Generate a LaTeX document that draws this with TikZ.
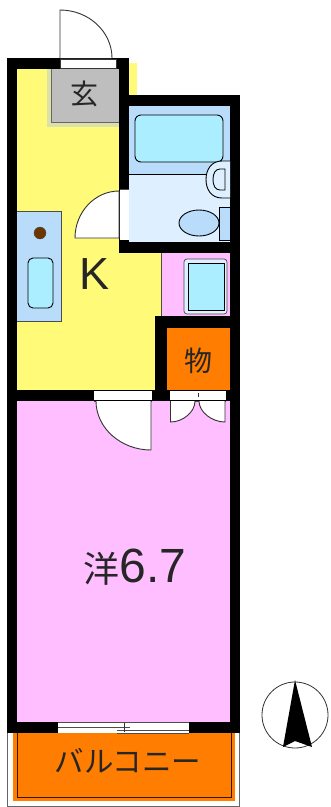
\documentclass[tikz,border=0pt]{standalone}
\usepackage{fontspec}
\setmainfont{Noto Sans CJK JP}
\newfontfamily\latinfont{Liberation Sans}
\definecolor{wallblack}{RGB}{0,0,0}
\definecolor{kitchenyellow}{RGB}{255,250,120}
\definecolor{roompink}{RGB}{255,190,255}
\definecolor{storeorange}{RGB}{255,125,0}
\definecolor{entrygray}{RGB}{190,190,190}
\definecolor{entryedge}{RGB}{220,225,170}
\definecolor{bathblue}{RGB}{185,220,250}
\definecolor{washblue}{RGB}{222,240,255}
\definecolor{tubcyan}{RGB}{170,238,255}
\tikzset{
  wall/.style={fill=wallblack, draw=none},
  fixture/.style={draw=black, line width=0.9pt},
  doorleaf/.style={draw=black!80, fill=white, line width=0.9pt},
  roomlabel/.style={text=black!85, inner sep=0pt}
}
\begin{document}
\begin{tikzpicture}[x=1pt, y=-1pt]
\useasboundingbox (0, 0) rectangle (330, 807);
\fill[white] (0, 0) rectangle (330, 807);

% Floors
\fill[kitchenyellow] (17, 69) rectangle (119, 391);
\fill[kitchenyellow] (119, 253) rectangle (161, 391);
\fill[kitchenyellow] (129, 63) rectangle (137, 95);
\fill[roompink] (17, 401) rectangle (230, 722);
\fill[roompink] (161, 253) rectangle (230, 316);
\draw[black!70, line width=0.7pt] (161, 253) -- (161, 316);
\fill[storeorange] (167, 328) rectangle (230, 390);
\fill[bathblue] (129, 106) rectangle (230, 174);
\fill[washblue] (129, 174) rectangle (230, 242);
\draw[black, line width=0.8pt] (129, 174) -- (208, 174);

% Entrance
\fill[entryedge] (47, 69) rectangle (119, 127);
\fill[entrygray] (51, 69) rectangle (119, 122);
\draw[black!60, line width=0.6pt] (51, 69) -- (51, 122) -- (119, 122);

% Balcony
\draw[black!60, line width=0.8pt] (7.5, 733) -- (7.5, 806) -- (239.5, 806) -- (239.5, 733);
\fill[storeorange] (13, 733) rectangle (235, 801);
\draw[black!80!storeorange, line width=0.9pt] (17, 733) -- (17, 797) -- (231, 797) -- (231, 733);

% Walls
\fill[wall] (7, 58) rectangle (17, 733);
\fill[wall] (7, 58) rectangle (129, 69);
\fill[wall] (119, 58) rectangle (129, 253);
\fill[wall] (119, 95) rectangle (240, 106);
\fill[wall] (230, 95) rectangle (240, 733);
\fill[wall] (119, 242) rectangle (240, 253);
\fill[wall] (155, 316) rectangle (240, 328);
\fill[wall] (155, 316) rectangle (167, 401);
\fill[wall] (7, 390) rectangle (240, 401);
\fill[wall] (7, 722) rectangle (240, 733);

% Openings
\draw[doorleaf] (60, 59) rectangle (116, 68);
\fill[white] (120, 189) rectangle (129, 240);
\draw[black!70, line width=0.6pt] (120, 189) -- (129, 189);
\fill[white] (94, 391) rectangle (152, 400);
\draw[black!70, line width=0.8pt] (94, 401) -- (152, 401);
\fill[white] (170, 391) rectangle (226, 400);
\draw[black!70, line width=0.8pt] (170, 401) -- (226, 401);
\draw[black!80, line width=0.8pt] (198, 393) -- (198, 397);

% Doors
\draw[doorleaf] (60, 58) -- (60, 10) .. controls (89, 10) and (112, 32) .. (112, 58);
\draw[doorleaf] (119, 191) -- (119, 238) -- (75, 238) .. controls (75, 212) and (95, 191) .. (119, 191);
\draw[doorleaf] (151, 401) -- (151, 450) .. controls (121, 450) and (96, 428) .. (96, 401);
\draw[doorleaf] (170.5, 401) -- (170.5, 422) .. controls (183, 422) and (195, 412) .. (195, 401);
\draw[doorleaf] (225, 401) -- (225, 422) .. controls (212, 422) and (199, 412) .. (199, 401);

% Window
\fill[white] (58, 722) rectangle (189, 733);
\draw[black!70, line width=0.7pt] (58, 722) -- (189, 722);
\draw[black!70, line width=0.7pt] (58, 727) -- (130, 727);
\draw[black!70, line width=0.7pt] (117, 730) -- (189, 730);
\draw[black!70, line width=0.7pt] (117, 733) -- (189, 733);
\draw[black!80, line width=0.7pt] (124, 723) -- (124, 732);

% Bath and toilet
\draw[fixture, fill=tubcyan] (135, 115) [rounded corners=6pt] rectangle (223, 162);
\draw[fixture, fill=washblue] (230, 161) -- (222, 161) .. controls (211, 161) and (206, 170) .. (206, 179.5) .. controls (206, 189) and (211, 198) .. (222, 198) -- (230, 198);
\draw[fixture, fill=washblue] (225, 169) -- (220, 169) .. controls (215, 169) and (213, 174) .. (213, 179.5) .. controls (213, 185) and (215, 190) .. (220, 190) -- (225, 190) -- cycle;
\draw[fixture, fill=bathblue] (199, 223) ellipse[x radius=20, y radius=13];
\draw[fixture, fill=bathblue] (219, 207) rectangle (230, 240);

% Kitchen counter
\draw[black!70, line width=0.8pt, fill=bathblue] (17, 211) -- (61, 211) -- (61, 321) -- (17, 321);
\draw[black!70, fill=black!40!orange!70!black] (40, 233) circle[radius=6];
\draw[fixture, fill=tubcyan] (28, 258) [rounded corners=5pt] rectangle (53, 308);

% Washing machine
\draw[black!70, line width=0.7pt, fill=washblue] (184, 259) [rounded corners=3pt] rectangle (227, 314);
\draw[fixture, fill=tubcyan] (188, 263) rectangle (224, 310);

% Labels
\node[roomlabel, font=\fontsize{28}{28}\selectfont] (entrylabel) at (84, 94) {玄};
\node[roomlabel, font=\latinfont\fontsize{45}{45}\selectfont] (kitchenlabel) at (95, 274) {K};
\node[roomlabel, font=\fontsize{28}{28}\selectfont] (storelabel) at (198, 361) {物};
\node[roomlabel, font=\fontsize{36}{36}\selectfont] (roomname) at (135, 567) {洋{\latinfont\fontsize{48}{48}\selectfont 6.7}};
\node[roomlabel, font=\fontsize{29.5}{30}\selectfont] (balconylabel) at (128, 761) {バルコニー};

% North mark
\draw[black!80, line width=0.8pt] (295, 715) circle[radius=33];
\fill[black] (295, 680) -- (312, 747) -- (295, 741) -- (283, 747) -- cycle;
\end{tikzpicture}
\end{document}
